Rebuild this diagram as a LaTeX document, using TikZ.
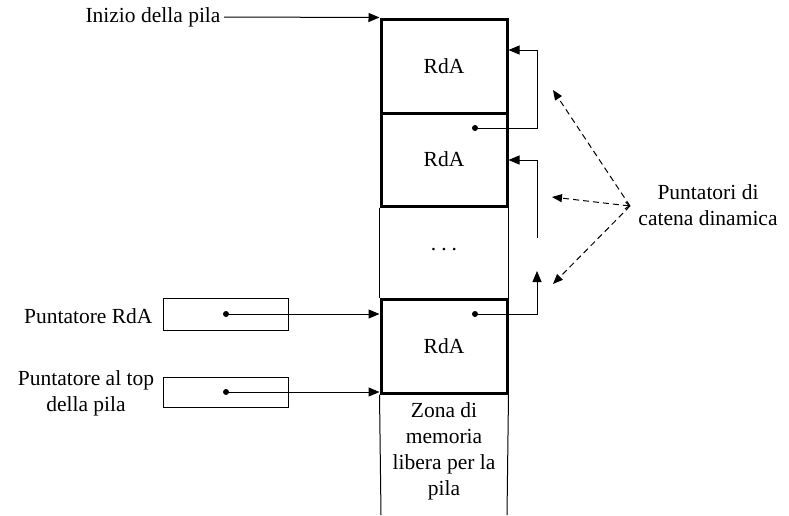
\documentclass[tikz,border=0pt]{standalone}
\usepackage{fontspec}
\setmainfont{Liberation Serif}
\usetikzlibrary{arrows.meta}
\begin{document}
\begin{tikzpicture}[x=1pt,y=-1pt,
  font=\fontsize{21.5}{26}\selectfont,
  thinline/.style={line width=1pt},
  arr/.style={-{Triangle[length=11pt,width=9pt]}, line width=1pt},
  dasharr/.style={dashed, dash pattern=on 6pt off 4pt, line width=1pt},
  framebox/.style={draw, line width=3pt, inner sep=0pt},
  ptrbox/.style={draw, line width=1pt, inner sep=0pt, minimum width=125, minimum height=32},
  dotmark/.style={circle, fill, inner sep=0pt, minimum size=6pt}
]
\useasboundingbox (0,0) rectangle (789,515);

% stack frames
\node[framebox, minimum width=126, minimum height=94] (b1) at (444,66) {RdA};
\node[framebox, minimum width=126, minimum height=93] (b2) at (444,159.5) {RdA};
\node[framebox, minimum width=126, minimum height=94] (b3) at (444,346) {RdA};
\node (dots) at (444,250) {.\hspace{5pt}.\hspace{5pt}.};
\node[align=center] (zona) at (444,451.5) {Zona di\\memoria\\libera per la\\pila};
\coordinate (bl) at (381,515);
\coordinate (br) at (507,515);

\draw[thinline] (b2.south west) -- (b3.north west);
\draw[thinline] (b2.south east) -- (b3.north east);
\draw[thinline] (b3.south west) -- (bl);
\draw[thinline] (b3.south east) -- (br);

% dynamic chain pointers
\node[dotmark] (d2) at (475,128) {};
\node[dotmark] (d3) at (475,314) {};
\coordinate (c1) at (537,50);
\coordinate (s2) at (537,238);
\coordinate (c2) at (537,160);
\coordinate (c3) at (537,271);
\draw[arr] (d2.center) -| (c1) -- (b1.east |- c1);
\draw[arr] (s2) -- (c2) -- (b2.east |- c2);
\draw[arr] (d3.center) -| (c3);

% start of stack
\node[anchor=east] (inizio) at (224,17) {Inizio della pila};
\draw[arr] (inizio.east) -- (b1.north west);

% pointer registers
\node[ptrbox] (prda) at (225.5,314.5) {};
\node[ptrbox, minimum height=30] (ptop) at (225.5,392) {};
\node[dotmark] (pd1) at (226,314) {};
\node[dotmark] (pd2) at (226,392) {};
\node[anchor=east] (lrda) at (156,316) {Puntatore RdA};
\node[align=center] (ltop) at (86,393) {Puntatore al top\\della pila};
\draw[arr] (pd1.center) -- (b3.west |- pd1);
\draw[arr] (pd2.center) -- (b3.west |- pd2);

% dynamic chain label
\node[align=center] (punt) at (708,205) {Puntatori di\\catena dinamica};
\coordinate (conv) at (630,206);
\coordinate (t1) at (553,90);
\coordinate (t2) at (552,197);
\coordinate (t3) at (553,284);
\draw[dasharr, -{Triangle[length=10pt,width=8pt]}] (conv) -- (t1);
\draw[dasharr, {Straight Barb[length=4pt,width=7pt]}-{Triangle[length=10pt,width=8pt]}] (conv) -- (t2);
\draw[dasharr, -{Triangle[length=10pt,width=8pt]}] (conv) -- (t3);
\end{tikzpicture}
\end{document}
